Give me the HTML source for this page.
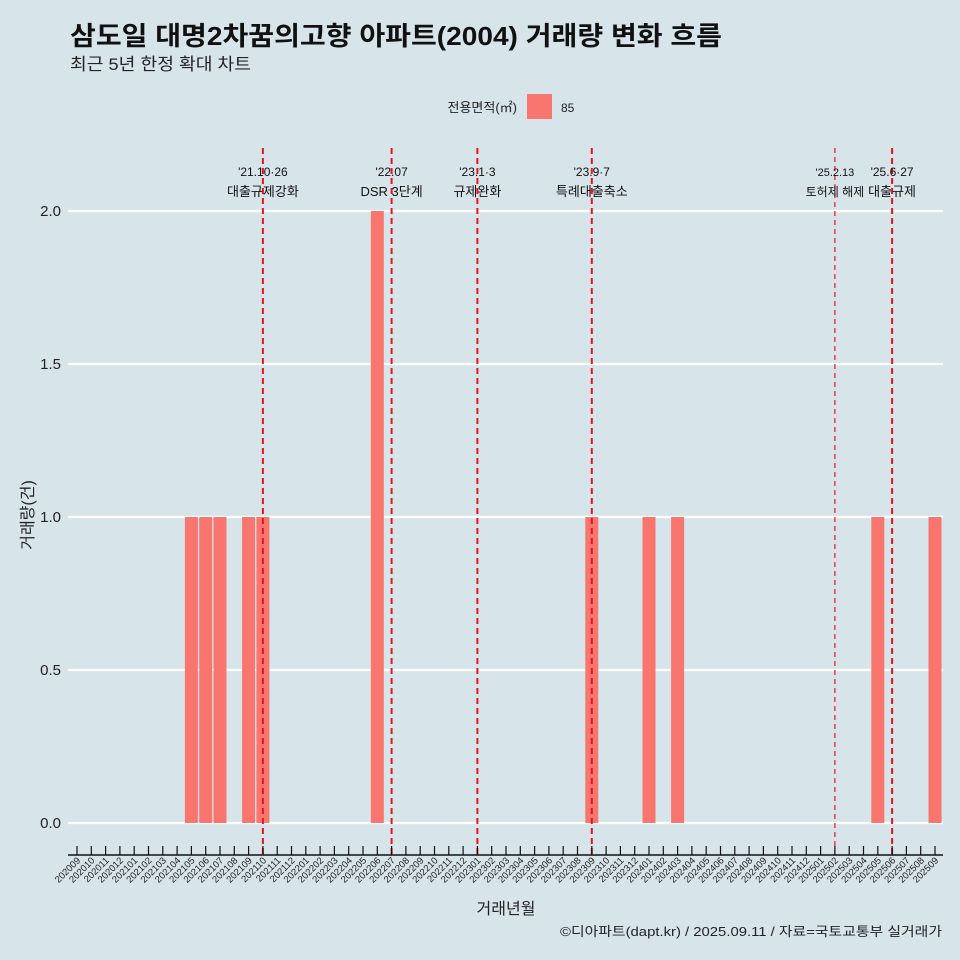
<!DOCTYPE html>
<html><head><meta charset="utf-8">
<style>
body{margin:0;background:#d7e4ea;}
svg{display:block;font-family:"Liberation Sans","Noto Sans CJK KR",sans-serif;}
</style></head>
<body>
<svg id="chart" width="960" height="960" viewBox="0 0 960 960">
<rect x="0" y="0" width="960" height="960" fill="#d7e4ea"/>
<text x="70" y="45" font-size="26" font-weight="bold" fill="#111" textLength="652" lengthAdjust="spacingAndGlyphs">삼도일 대명2차꿈의고향 아파트(2004) 거래량 변화 흐름</text>
<text x="70" y="70" font-size="17" fill="#222" textLength="181" lengthAdjust="spacingAndGlyphs">최근 5년 한정 확대 차트</text>
<g>
<text x="517" y="112" font-size="13" text-anchor="end" fill="#222">전용면적(㎡)</text>
<rect x="527" y="94" width="25" height="25" fill="#f8766d"/>
<text x="561" y="112" font-size="12" fill="#222">85</text>
</g>
<g id="grid"></g><g id="bars"></g><g id="vlines"></g><g id="xaxis"></g>
<text x="506" y="914" font-size="16" text-anchor="middle" fill="#222">거래년월</text>
<text x="0" y="0" font-size="16" text-anchor="middle" fill="#222" transform="translate(33,515) rotate(-90)">거래량(건)</text>
<text x="560" y="936" font-size="13" fill="#222" textLength="382" lengthAdjust="spacingAndGlyphs">©디아파트(dapt.kr) / 2025.09.11 / 자료=국토교통부 실거래가</text>
</svg>
<script>
const categories=[];for(let y=2020,m=9;!(y===2025&&m===10);){categories.push(y+String(m).padStart(2,'0'));m++;if(m>12){m=1;y++;}}
const barMonths=["202105","202106","202107","202109","202110","202206","202309","202401","202403","202505","202509"];
const barValues=[1,1,1,1,1,2,1,1,1,1,1];
const yTicks=[0,0.5,1,1.5,2];
const yTickLabels=["0.0","0.5","1.0","1.5","2.0"];
const eventMonths=["202110","202207","202301","202309","202502","202506"];
const eventDates=["'21.10·26","'22.07","'23.1·3","'23.9·7","'25.2.13","'25.6·27"];
const eventLabels=["대출규제강화","DSR 3단계","규제완화","특례대출축소","토허제 해제","대출규제"];
const NS="http://www.w3.org/2000/svg";
const x0=77,dx=14.3,y0=823,ky=306;
const X=c=>x0+categories.indexOf(c)*dx;
const Y=v=>y0-v*ky;
function mk(t,a,p){const e=document.createElementNS(NS,t);for(const k in a)e.setAttribute(k,a[k]);p.appendChild(e);return e;}
const grid=document.getElementById('grid');
yTicks.forEach((v,i)=>{
 const l=mk('line',{x1:68,x2:943,y1:Y(v),y2:Y(v),stroke:'#fff','stroke-width':2.2},grid);
 
 
 const t=mk('text',{x:61,y:Y(v)+5,'font-size':15,'text-anchor':'end',fill:'#222'},grid);
 t.textContent=yTickLabels[i];
 
 
});
const bars=document.getElementById('bars');
barMonths.forEach((c,i)=>{
 const r=mk('rect',{x:X(c)-6.5,y:Y(barValues[i]),width:13,height:barValues[i]*ky,fill:'#f8766d'},bars);
 
 
});
const vl=document.getElementById('vlines');
eventMonths.forEach((c,i)=>{
 const small=c==="202502";
 const l=mk('line',{x1:X(c),x2:X(c),y1:148,y2:855,stroke:'#e8141c','stroke-width':small?1.2:2,'stroke-dasharray':small?'5,4':'6,4'},vl);
 
 
 const fs=small?11:12;
 const t1=mk('text',{x:X(c),y:176,'font-size':fs,'text-anchor':'middle',fill:'#111'},vl);
 t1.textContent=eventDates[i];
 
 
 const t2=mk('text',{x:X(c),y:196,'font-size':fs+1,'text-anchor':'middle',fill:'#111'},vl);
 t2.textContent=eventLabels[i];
 
 
});
const xa=document.getElementById('xaxis');
const al=mk('line',{x1:68,x2:943,y1:855,y2:855,stroke:'#111','stroke-width':1.5},xa);


categories.forEach(c=>{
 const t=mk('line',{x1:X(c),x2:X(c),y1:846,y2:855,stroke:'#111','stroke-width':1.2},xa);
 
 
 const s=mk('text',{x:0,y:0,'font-size':9.5,'text-anchor':'end',fill:'#222',transform:`translate(${X(c)+4},${861}) rotate(-45)`},xa);
 s.textContent=c;
 
 
});
</script>
</body></html>
